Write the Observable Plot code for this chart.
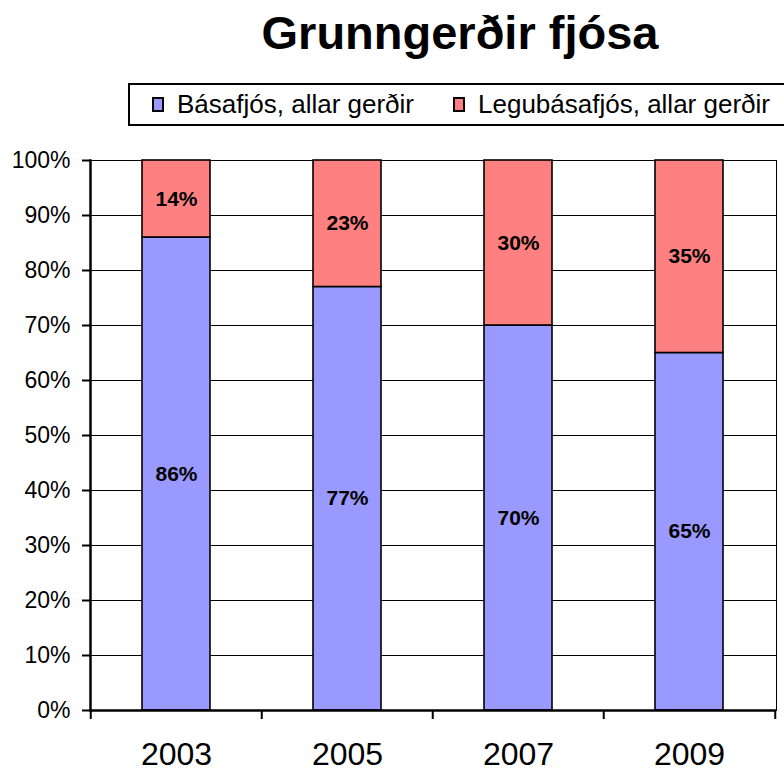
<!DOCTYPE html>
<html>
<head>
<meta charset="utf-8">
<script src="https://cdn.jsdelivr.net/npm/d3@7"></script>
<script src="https://cdn.jsdelivr.net/npm/@observablehq/plot@0.6"></script>
<style>
  html, body { margin: 0; padding: 0; background: #fff; }
  #wrap { position: relative; width: 784px; height: 774px; overflow: hidden; font-family: "Liberation Sans", Arial, sans-serif; }
  #title { position: absolute; left: 160px; width: 600px; top: 9px; text-align: center; font-weight: bold; font-size: 47px; line-height: 1; color: #000; }
  #legend { position: absolute; left: 128px; top: 83px; width: 662px; height: 43px; box-sizing: border-box; border: 2px solid #000; font-size: 26px; color: #000; }
  .item { display: flex; align-items: center; position: absolute; top: 0; height: 39px; }
  .sw { width: 8px; height: 11px; border: 2px solid #000; margin-right: 13px; }
  #chart { position: absolute; left: 0; top: 140px; }
</style>
</head>
<body>
<div id="wrap">
  <div id="title">Grunngerðir fjósa</div>
  <div id="legend"></div>
  <div id="chart"></div>
</div>
<script>
const years = ["2003", "2005", "2007", "2009"];
const basafjos = [86, 77, 70, 65];
const legubasafjos = [14, 23, 30, 35];
const seriesNames = ["Básafjós, allar gerðir", "Legubásafjós, allar gerðir"];
const seriesColors = ["#9999FF", "#FF8080"];
const yTicks = [0, 10, 20, 30, 40, 50, 60, 70, 80, 90, 100];

const data = years.flatMap((yr, i) => [
  {year: yr, series: seriesNames[0], value: basafjos[i]},
  {year: yr, series: seriesNames[1], value: legubasafjos[i]}
]);

// legend
const legend = document.getElementById("legend");
const legendLefts = [22, 323];
seriesNames.forEach((s, i) => {
  const it = document.createElement("div");
  it.className = "item";
  it.style.left = legendLefts[i] + "px";
  const sw = document.createElement("div");
  sw.className = "sw";
  sw.style.background = seriesColors[i];
  const tx = document.createElement("span");
  tx.textContent = s;
  it.appendChild(sw); it.appendChild(tx);
  legend.appendChild(it);
});

const W = 784, H = 634, mL = 90, mR = 8, mT = 20, mB = 64;
const bw = (W - mL - mR) / years.length;

const chart = Plot.plot({
  width: W, height: H,
  marginLeft: mL, marginRight: mR, marginTop: mT, marginBottom: mB,
  style: {fontFamily: "'Liberation Sans', Arial, sans-serif", color: "#000", background: "#fff"},
  x: {domain: years, paddingInner: 0.6, paddingOuter: 0.3},
  y: {domain: [0, 100]},
  color: {domain: seriesNames, range: seriesColors},
  marks: [
    Plot.gridY(yTicks, {stroke: "#000", strokeOpacity: 1, strokeWidth: 1}),
    Plot.frame({stroke: "#000", strokeWidth: 1}),
    Plot.barY(data, Plot.stackY({x: "year", y: "value", fill: "series", stroke: "#000", strokeWidth: 1.6})),
    Plot.text(data, Plot.stackY({x: "year", y: "value", text: d => d.value + "%", fontWeight: "bold", fontSize: 21, fill: "#000"})),
    Plot.ruleY([0], {stroke: "#000", strokeWidth: 2.5}),
    Plot.frame({anchor: "left", stroke: "#000", strokeWidth: 2.5}),
    Plot.ruleX(years, {x: d => d, dx: -bw / 2, y1: 0, y2: 0, insetBottom: -9, stroke: "#000", strokeWidth: 2}),
    Plot.ruleX(years.slice(-1), {x: d => d, dx: bw / 2, y1: 0, y2: 0, insetBottom: -9, stroke: "#000", strokeWidth: 2}),
    Plot.axisY(yTicks, {tickSize: 8, tickPadding: 12, fontSize: 23, strokeWidth: 2, tickFormat: d => d + "%", label: null}),
    Plot.axisX({tickSize: 0, tickPadding: 32, fontSize: 32, label: null})
  ]
});
document.getElementById("chart").appendChild(chart);
</script>
</body>
</html>
